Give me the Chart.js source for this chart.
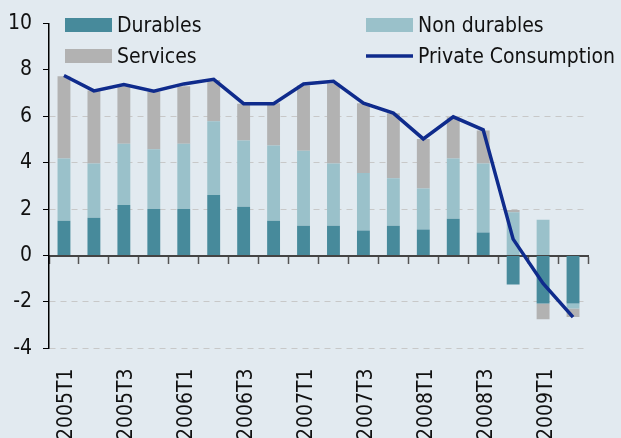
<!DOCTYPE html>
<html>
<head>
<meta charset="utf-8">
<script src="https://cdn.jsdelivr.net/npm/chart.js@4.4.1/dist/chart.umd.min.js"></script>
<style>
  html, body { margin: 0; padding: 0; background: #e2eaf0; overflow: hidden; }
  #wrap { width: 621px; height: 438px; overflow: hidden; }
  #box { width: 621px; height: 460px; }
</style>
</head>
<body>
<div id="wrap"><div id="box"><canvas id="consumptionChart"></canvas></div></div>
<script>
const quarters = ["2005T1", "2005T2", "2005T3", "2005T4", "2006T1", "2006T2", "2006T3", "2006T4",
  "2007T1", "2007T2", "2007T3", "2007T4", "2008T1", "2008T2", "2008T3", "2008T4", "2009T1", "2009T2"];
const durables = [1.5, 1.63, 2.18, 2.01, 2.01, 2.61, 2.1, 1.5, 1.29, 1.29, 1.08, 1.29, 1.12, 1.59, 0.99, -1.25, -2.07, -2.07];
const nonDurables = [2.68, 2.34, 2.64, 2.57, 2.81, 3.18, 2.86, 3.24, 3.23, 2.68, 2.48, 2.04, 1.77, 2.59, 2.98, 1.87, 1.54, -0.21];
const services = [3.55, 3.15, 2.48, 2.48, 2.48, 1.78, 1.59, 1.83, 2.81, 3.45, 3.01, 2.81, 2.14, 1.78, 1.42, 0.09, -0.67, -0.37];
const privateConsumption = [7.76, 7.1, 7.37, 7.09, 7.4, 7.6, 6.55, 6.55, 7.4, 7.51, 6.57, 6.14, 5.03, 5.98, 5.42, 0.71, -1.2, -2.65];
const yMin = -4, yMax = 10, yStep = 2;

Chart.defaults.font.family = "'DejaVu Sans Condensed', 'DejaVu Sans', sans-serif";
Chart.defaults.font.size = 21;
Chart.defaults.color = "#111";

// legend drawn as a 2x2 grid inside the plot, like the original
const gridLegend = {
  id: 'gridLegend',
  afterDraw(chart) {
    const ctx = chart.ctx;
    const ds = chart.data.datasets;
    const cols = [65, 366];
    const rows = [32, 63];
    ctx.save();
    ctx.font = "21px 'DejaVu Sans Condensed', 'DejaVu Sans', sans-serif";
    ctx.textBaseline = 'alphabetic';
    ds.forEach((d, i) => {
      const x = cols[i % 2];
      const base = rows[Math.floor(i / 2)];
      if (d.type === 'line') {
        ctx.strokeStyle = d.borderColor;
        ctx.lineWidth = d.borderWidth;
        ctx.beginPath();
        ctx.moveTo(x, base - 7);
        ctx.lineTo(x + 47, base - 7);
        ctx.stroke();
      } else {
        ctx.fillStyle = d.backgroundColor;
        ctx.fillRect(x, base - 14, 47, 14);
      }
      ctx.fillStyle = "#111";
      ctx.fillText(d.label, x + 52, base);
    });
    ctx.restore();
  }
};

new Chart(document.getElementById("consumptionChart"), {
  type: 'bar',
  data: {
    labels: quarters,
    datasets: [{
      label: "Durables",
      data: durables,
      backgroundColor: "#478a9b",
      stack: 'parts',
      order: 2
    }, {
      label: "Non durables",
      data: nonDurables,
      backgroundColor: "#9ac1ca",
      stack: 'parts',
      order: 2
    }, {
      label: "Services",
      data: services,
      backgroundColor: "#b2b2b2",
      stack: 'parts',
      order: 2
    }, {
      type: 'line',
      label: "Private Consumption",
      data: privateConsumption,
      borderColor: "#0f2b8c",
      borderWidth: 3.5,
      pointRadius: 0,
      tension: 0,
      fill: false,
      stack: 'total',
      order: 1
    }]
  },
  options: {
    responsive: true,
    maintainAspectRatio: false,
    animation: false,
    layout: { padding: { left: 8, right: 33, top: 20, bottom: 0 } },
    datasets: {
      bar: { barPercentage: 0.43, categoryPercentage: 1 }
    },
    plugins: {
      legend: { display: false },
      tooltip: { enabled: false }
    },
    scales: {
      x: {
        stacked: true,
        offset: true,
        grid: { display: false, drawTicks: false },
        border: { display: false },
        ticks: {
          autoSkip: false,
          minRotation: 90,
          maxRotation: 90,
          padding: 20,
          labelOffset: 3,
          callback: function (val, i) { return i % 2 === 0 ? this.getLabelForValue(val) : ''; }
        }
      },
      x2: {
        axis: 'x',
        type: 'category',
        position: { y: 0 },
        offset: true,
        ticks: { display: false },
        grid: { offset: true, drawOnChartArea: false, drawTicks: true, tickLength: 7, tickColor: "#555", tickWidth: 1.5 },
        border: { display: true, color: "#444", width: 2 }
      },
      y: {
        stacked: true,
        min: yMin,
        max: yMax,
        afterFit: (scale) => { scale.width = 41; },
        ticks: { stepSize: yStep, padding: 11 },
        grid: {
          color: (c) => (c.tick && [0, 8, 10].includes(c.tick.value)) ? 'rgba(0,0,0,0)' : '#c8c8c8',
          tickColor: "#000",
          tickLength: 6,
          lineWidth: 1
        },
        border: { display: true, color: "#000", width: 1.5, dash: [6, 5] }
      }
    }
  },
  plugins: [gridLegend]
});
</script>
</body>
</html>
